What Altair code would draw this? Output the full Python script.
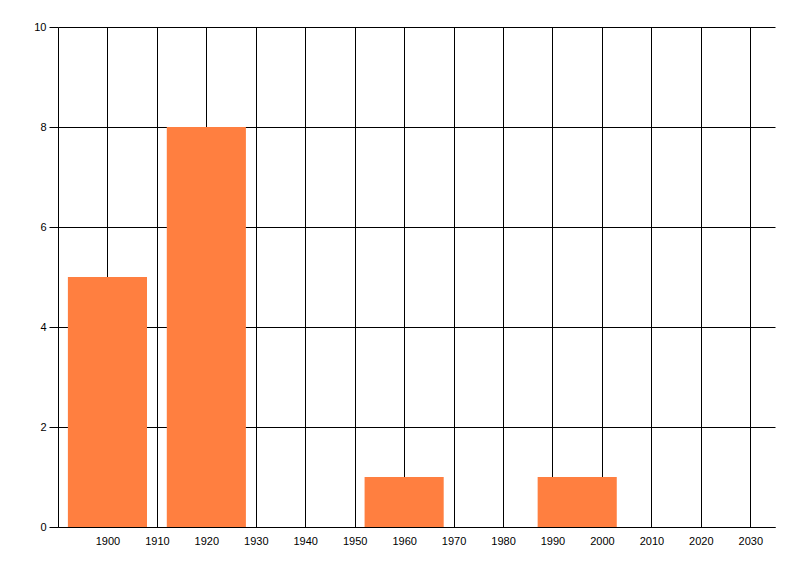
import altair as alt
import pandas as pd

years = [1900, 1920, 1960, 1995]
counts = [5, 8, 1, 1]
x_ticks = list(range(1900, 2031, 10))
y_ticks = [0, 2, 4, 6, 8, 10]

df = pd.DataFrame({"year": years, "count": counts})

bars = alt.Chart(df).transform_calculate(
    x0="datum.year - 8", x1="datum.year + 8"
).mark_rect(color="#FF7F40").encode(
    x=alt.X("x0:Q", scale=alt.Scale(domain=[1890, 2035], nice=False, zero=False),
            axis=alt.Axis(values=x_ticks, format="d", title=None, grid=True,
                          gridColor="black", gridOpacity=1, gridWidth=1,
                          ticks=False, labelPadding=8, domainColor="black",
                          labelColor="black", labelFontSize=11, labelFont="Liberation Sans")),
    x2="x1:Q",
    y=alt.Y("count:Q", scale=alt.Scale(domain=[0, 10], nice=False),
            axis=alt.Axis(values=y_ticks, title=None, grid=True,
                          gridColor="black", gridOpacity=1, gridWidth=1,
                          tickSize=9, tickColor="black", labelPadding=3,
                          domainColor="black", labelColor="black",
                          labelFontSize=11, labelFont="Liberation Sans")),
    y2=alt.datum(0),
)

chart = bars.properties(
    width=717, height=500,
    autosize=alt.AutoSizeParams(type="none"),
    padding={"left": 50, "top": 19, "right": 17, "bottom": 41},
).configure_view(stroke=None).configure_axis(domainWidth=1, tickWidth=1)

chart.save("out.html", embed_options={"renderer": "svg", "actions": False})
